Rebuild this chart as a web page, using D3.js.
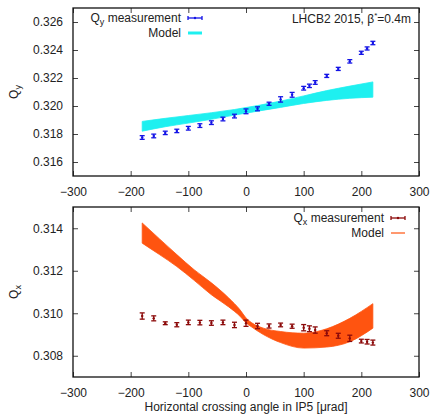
<!DOCTYPE html>
<html>
<head>
<meta charset="utf-8">
<script src="https://cdn.jsdelivr.net/npm/d3@7"></script>
<style>
  body { margin: 0; background: #fff; }
  svg text { font-family: "Liberation Sans", Arial, sans-serif; fill: #222; }
</style>
</head>
<body>
<div id="chart"></div>
<script>
// crossing angle values (urad)
var angles = [-180, -160, -140, -120, -100, -80, -60, -40, -20, 0, 20, 40, 60, 80, 100, 110, 120, 140, 160, 180, 200, 210, 220];

// Qy measurement + errors
var qyValues = [0.31775, 0.31786, 0.31808, 0.31822, 0.31841, 0.3186, 0.31881, 0.31907, 0.31928, 0.31962, 0.3198, 0.32016,
  0.32047, 0.3208, 0.32127, 0.32144, 0.32168, 0.32215, 0.32265, 0.32319, 0.3238, 0.32411, 0.3245];
var qyErrors = [0.00006, 0.00006, 0.00005, 0.00005, 0.00006, 0.00006, 0.00006, 0.00006, 0.00006, 0.0001, 0.00007, 0.00004,
  0.00012, 0.0001, 0.00006, 0.00005, 0.00006, 0.00004, 0.00004, 0.00005, 0.00004, 0.00004, 0.00005];

// Qx measurement + errors
var qxValues = [0.30987, 0.30976, 0.30953, 0.30946, 0.30957, 0.30956, 0.30954, 0.30957, 0.30945, 0.30953, 0.3094, 0.3094,
  0.30945, 0.30939, 0.30932, 0.30927, 0.30921, 0.30906, 0.30894, 0.30882, 0.30869, 0.30866, 0.30862];
var qxErrors = [0.0001, 0.00007, 0.00002, 0.00005, 0.00006, 0.00006, 0.00006, 0.00006, 0.00008, 0.0001, 0.00008, 0.00005,
  0.00004, 0.00005, 0.0001, 0.00009, 0.0001, 0.00007, 0.00007, 0.0001, 0.00004, 0.00006, 0.00007];

// model band envelopes
var bandAngles = [-180, -140, -100, -60, -20, 20, 60, 100, 140, 180, 220];
var qyModelUpper = [0.3189, 0.31912, 0.31932, 0.31952, 0.31975, 0.32003, 0.32035, 0.32072, 0.3211, 0.32142, 0.32172];
var qyModelLower = [0.3182, 0.31852, 0.31878, 0.31905, 0.31935, 0.31963, 0.3199, 0.32018, 0.3204, 0.32055, 0.32063];

var qxBandAngles = [-180, -150, -120, -90, -60, -30, -10, 0, 10, 30, 60, 100, 140, 180, 220];
var qxModelUpper = [0.31425, 0.3135, 0.31276, 0.31205, 0.31143, 0.31072, 0.31015, 0.30978, 0.30955, 0.3093, 0.30914,
  0.30906, 0.30927, 0.30976, 0.31045];
var qxModelLower = [0.3133, 0.31276, 0.3122, 0.31155, 0.31087, 0.3103, 0.30985, 0.30955, 0.30935, 0.309, 0.30862,
  0.30836, 0.30841, 0.30866, 0.3093];

var xTicks = [-300, -200, -100, 0, 100, 200, 300];
var qyTicks = [0.316, 0.318, 0.32, 0.322, 0.324, 0.326];
var qxTicks = [0.308, 0.31, 0.312, 0.314];

var svg = d3.select("#chart").append("svg")
  .attr("width", 433)
  .attr("height", 415);

var fmt = d3.format(".3f");

function drawPanel(opt) {
  var g = svg.append("g");
  var x = d3.scaleLinear().domain([-300, 300]).range([73, 419]);
  var y = d3.scaleLinear().domain(opt.yDomain).range([opt.bottom, opt.top]);

  // ticks, mirrored on all sides, pointing inward
  g.append("g").attr("transform", "translate(0," + opt.bottom + ")")
    .call(d3.axisBottom(x).tickValues(xTicks).tickSizeInner(-5).tickSizeOuter(0).tickPadding(11))
    .call(function(s) { s.select(".domain").remove(); });
  g.append("g").attr("transform", "translate(0," + opt.top + ")")
    .call(d3.axisTop(x).tickValues(xTicks).tickSizeInner(-5).tickSizeOuter(0).tickFormat(""))
    .call(function(s) { s.select(".domain").remove(); });
  g.append("g").attr("transform", "translate(73,0)")
    .call(d3.axisLeft(y).tickValues(opt.yTicks).tickSizeInner(-5).tickSizeOuter(0).tickPadding(10).tickFormat(fmt))
    .call(function(s) { s.select(".domain").remove(); });
  g.append("g").attr("transform", "translate(419,0)")
    .call(d3.axisRight(y).tickValues(opt.yTicks).tickSizeInner(-5).tickSizeOuter(0).tickFormat(""))
    .call(function(s) { s.select(".domain").remove(); });
  g.selectAll(".tick text").attr("font-size", 12).style("fill", "#222");
  g.selectAll(".tick line").attr("stroke", "#444");

  g.append("rect")
    .attr("x", 73).attr("y", opt.top)
    .attr("width", 346).attr("height", opt.bottom - opt.top)
    .attr("fill", "none").attr("stroke", "#111").attr("stroke-width", 1.3);

  // model band
  var band = opt.bandX.map(function(d, i) {
    return { a: d, hi: opt.upper[i], lo: opt.lower[i] };
  });
  var area = d3.area()
    .x(function(d) { return x(d.a); })
    .y0(function(d) { return y(d.lo); })
    .y1(function(d) { return y(d.hi); })
    .curve(d3.curveMonotoneX);
  g.append("path").datum(band)
    .attr("d", area)
    .attr("fill", opt.bandColor)
    .attr("stroke", opt.bandColor)
    .attr("stroke-width", 0.8);

  // measurements with error bars
  var pts = angles.map(function(d, i) {
    return { a: d, v: opt.values[i], e: opt.errors[i] };
  });
  var pg = g.selectAll(".pt").data(pts).enter().append("g").attr("class", "pt");
  pg.append("line")
    .attr("x1", function(d) { return x(d.a); })
    .attr("x2", function(d) { return x(d.a); })
    .attr("y1", function(d) { return y(d.v - d.e) + 1; })
    .attr("y2", function(d) { return y(d.v + d.e) - 1; })
    .attr("stroke", opt.ptColor).attr("stroke-width", 1.3);
  [-1, 1].forEach(function(sgn) {
    pg.append("line")
      .attr("x1", function(d) { return x(d.a) - 2.5; })
      .attr("x2", function(d) { return x(d.a) + 2.5; })
      .attr("y1", function(d) { return y(d.v + sgn * d.e) - sgn; })
      .attr("y2", function(d) { return y(d.v + sgn * d.e) - sgn; })
      .attr("stroke", opt.ptColor).attr("stroke-width", 1.3);
  });
  pg.append("circle")
    .attr("cx", function(d) { return x(d.a); })
    .attr("cy", function(d) { return y(d.v); })
    .attr("r", 1.2)
    .attr("fill", opt.ptColor);

  // y axis title
  var yt = svg.append("text")
    .attr("transform", "translate(18," + (opt.top + opt.bottom) / 2 + ") rotate(-90)")
    .attr("text-anchor", "middle")
    .attr("font-size", 12);
  yt.append("tspan").text("Q");
  yt.append("tspan").attr("font-size", 9).attr("dy", 3).text(opt.sub);

  // legend
  var lx = opt.legendX;
  var t1 = svg.append("text").attr("x", lx - 7).attr("y", opt.legendY)
    .attr("text-anchor", "end").attr("font-size", 12);
  t1.append("tspan").text("Q");
  t1.append("tspan").attr("font-size", 9).attr("dy", 3).text(opt.sub);
  t1.append("tspan").attr("dy", -3).text(" measurement");
  var sy = opt.legendY - 4;
  svg.append("line").attr("x1", lx).attr("x2", lx + 14).attr("y1", sy).attr("y2", sy)
    .attr("stroke", opt.ptColor).attr("stroke-width", 1.3);
  [lx, lx + 14].forEach(function(cx) {
    svg.append("line").attr("x1", cx).attr("x2", cx).attr("y1", sy - 2).attr("y2", sy + 2)
      .attr("stroke", opt.ptColor).attr("stroke-width", 1.3);
  });
  svg.append("circle").attr("cx", lx + 7).attr("cy", sy).attr("r", 1.2).attr("fill", opt.ptColor);

  svg.append("text").attr("x", lx - 7).attr("y", opt.legendY + 15)
    .attr("text-anchor", "end").attr("font-size", 12).text("Model");
  svg.append("line").attr("x1", lx).attr("x2", lx + 14)
    .attr("y1", opt.legendY + 11).attr("y2", opt.legendY + 11)
    .attr("stroke", opt.bandColor).attr("stroke-width", opt.swatchWidth);
}

drawPanel({
  top: 8, bottom: 176, yDomain: [0.315, 0.327], yTicks: qyTicks,
  values: qyValues, errors: qyErrors, ptColor: "#1414e6",
  bandX: bandAngles, upper: qyModelUpper, lower: qyModelLower, bandColor: "#1ef0f0",
  sub: "y", legendX: 188, legendY: 22, swatchWidth: 3
});

drawPanel({
  top: 207, bottom: 377, yDomain: [0.307, 0.315], yTicks: qxTicks,
  values: qxValues, errors: qxErrors, ptColor: "#8c0a0a",
  bandX: qxBandAngles, upper: qxModelUpper, lower: qxModelLower, bandColor: "#ff5410",
  sub: "x", legendX: 391, legendY: 222, swatchWidth: 1.2
});

// annotation
var ann = svg.append("text").attr("x", 411).attr("y", 23)
  .attr("text-anchor", "end").attr("font-size", 12);
ann.append("tspan").text("LHCB2 2015, \u03b2");
ann.append("tspan").attr("font-size", 8).attr("dy", -5).text("*");
ann.append("tspan").attr("dy", 5).text("=0.4m");

svg.append("text")
  .attr("x", 246).attr("y", 411)
  .attr("text-anchor", "middle").attr("font-size", 12)
  .text("Horizontal crossing angle in IP5 [\u03bcrad]");
</script>
</body>
</html>
